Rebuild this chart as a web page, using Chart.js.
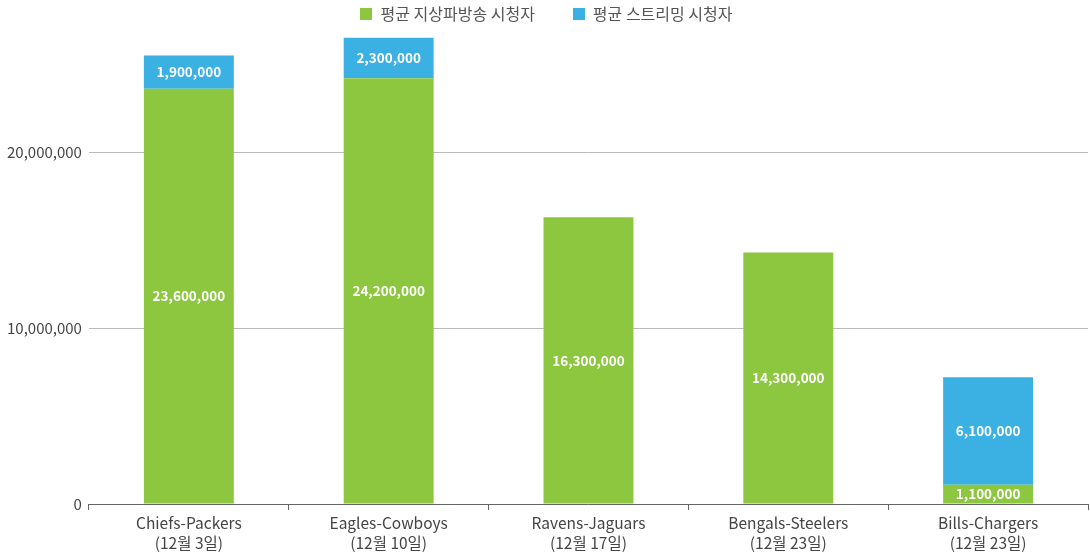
<!DOCTYPE html>
<html>
<head>
<meta charset="utf-8">
<script src="https://cdn.jsdelivr.net/npm/chart.js@4"></script>
<style>
html,body{margin:0;padding:0;background:#fff;}
#wrap{width:1090px;height:558px;}
</style>
</head>
<body>
<div id="wrap"><canvas id="c" width="1090" height="558"></canvas></div>
<script>
const categories = [
  ["Chiefs-Packers", "(12월 3일)"],
  ["Eagles-Cowboys", "(12월 10일)"],
  ["Ravens-Jaguars", "(12월 17일)"],
  ["Bengals-Steelers", "(12월 23일)"],
  ["Bills-Chargers", "(12월 23일)"]
];
const seriesNames = ["평균 지상파방송 시청자", "평균 스트리밍 시청자"];
const broadcastViewers = [23600000, 24200000, 16300000, 14300000, 1100000];
const streamingViewers = [1900000, 2300000, 0, 0, 6100000];
const yTicks = [0, 10000000, 20000000];

const FONT = "'Noto Sans CJK KR', 'Noto Sans', sans-serif";
const fmt = v => v.toLocaleString('en-US');

const barLabels = {
  id: 'barLabels',
  afterDatasetsDraw(chart) {
    const ctx = chart.ctx;
    ctx.save();
    ctx.font = "bold 13.5px " + FONT;
    ctx.fillStyle = '#ffffff';
    ctx.textAlign = 'center';
    ctx.textBaseline = 'middle';
    chart.data.datasets.forEach((ds, di) => {
      const meta = chart.getDatasetMeta(di);
      meta.data.forEach((bar, i) => {
        const v = ds.data[i];
        if (!v) return;
        const p = bar.getProps(['x', 'y', 'base'], true);
        ctx.fillText(fmt(v), p.x, (p.y + p.base) / 2);
      });
    });
    ctx.restore();
  }
};

const customLegend = {
  id: 'customLegend',
  afterDraw(chart) {
    const ctx = chart.ctx;
    ctx.save();
    ctx.font = "16px " + FONT;
    ctx.textBaseline = 'middle';
    ctx.textAlign = 'left';
    const box = 12, gapText = 8, gapItem = 38;
    const items = chart.data.datasets.map(ds => ({ text: ds.label, color: ds.backgroundColor, w: ctx.measureText(ds.label).width }));
    let total = 0;
    items.forEach((it, i) => { total += box + gapText + it.w + (i ? gapItem : 0); });
    let x = 546.5 - total / 2;
    const cy = 13.5;
    items.forEach((it, i) => {
      if (i) x += gapItem;
      ctx.fillStyle = it.color;
      ctx.fillRect(Math.round(x), Math.round(cy - box / 2), box, box);
      x += box + gapText;
      ctx.fillStyle = '#555';
      ctx.fillText(it.text, x, cy);
      x += it.w;
    });
    ctx.restore();
  }
};

new Chart(document.getElementById('c'), {
  type: 'bar',
  data: {
    labels: categories,
    datasets: [
      { label: seriesNames[0], data: broadcastViewers, backgroundColor: '#8dc63f', barPercentage: 0.45, categoryPercentage: 1.0 },
      { label: seriesNames[1], data: streamingViewers, backgroundColor: '#3bb0e3', barPercentage: 0.45, categoryPercentage: 1.0 }
    ]
  },
  options: {
    responsive: false,
    animation: false,
    layout: { padding: { left: 0, right: 2, top: 29, bottom: 2 } },
    plugins: {
      legend: { display: false },
      tooltip: { enabled: false }
    },
    scales: {
      x: {
        stacked: true,
        grid: { display: true, drawOnChartArea: false, drawTicks: true, tickLength: 6, color: '#666', offset: true },
        border: { display: true, color: '#666', width: 1 },
        ticks: { color: '#444', font: { family: FONT, size: 15.5, lineHeight: 1.29 }, padding: 3, maxRotation: 0, autoSkip: false }
      },
      y: {
        stacked: true,
        min: 0,
        max: 27000000,
        afterBuildTicks: s => { s.ticks = yTicks.map(v => ({ value: v })); },
        grid: { display: true, drawTicks: false, color: '#bbb' },
        border: { display: false },
        ticks: { color: '#444', font: { family: FONT, size: 15 }, padding: 7, callback: v => fmt(v) }
      }
    }
  },
  plugins: [barLabels, customLegend]
});
</script>
</body>
</html>
